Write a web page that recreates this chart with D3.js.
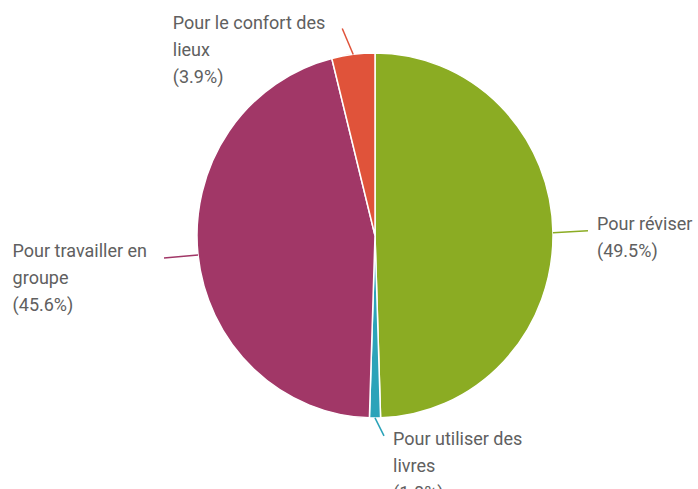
<!DOCTYPE html>
<html>
<head>
<meta charset="utf-8">
<script src="https://cdn.jsdelivr.net/npm/d3@7/dist/d3.min.js"></script>
<style>
  body { margin: 0; background: #fff; }
  svg { display: block; font-family: Roboto, "Liberation Sans", Arial, sans-serif; }
</style>
</head>
<body>
<svg id="chart" width="698" height="489"></svg>
<script>
const LABELS = [
  ["Pour réviser"],
  ["Pour utiliser des", "livres"],
  ["Pour travailler en", "groupe"],
  ["Pour le confort des", "lieux"],
];
const VALUES = [49.5, 1.0, 45.6, 3.9];
const COLORS = ["#8bac23", "#2ba3b9", "#a13767", "#e0533a"];

// leader line end (relative to arc point), text side and first-baseline shift
const LEADERS = [
  { dx: 35, dy: -2, side: "right", base: -1 },
  { dx: 9, dy: 18, side: "right", base: 9 },
  { dx: -34, dy: 3, side: "left", base: -1 },
  { dx: -11, dy: -26, side: "left", base: 1 },
];

const CX = 375, CY = 235.5, R = 178, SQUASH = 1.025;
const LINE_H = 27;

const svg = d3.select("#chart");
const slices = d3.pie().sort(null).value((d) => d)(VALUES);
const arc = d3.arc().innerRadius(0).outerRadius(R);

svg
  .append("g")
  .attr("transform", `translate(${CX},${CY}) scale(1,${SQUASH})`)
  .selectAll("path")
  .data(slices)
  .join("path")
  .attr("d", arc)
  .attr("fill", (d, i) => COLORS[i])
  .attr("stroke", "#fff")
  .attr("stroke-width", 1.5)
  .attr("vector-effect", "non-scaling-stroke");

const edge = (d) => {
  const a = (d.startAngle + d.endAngle) / 2;
  return [CX + R * Math.sin(a), CY - R * SQUASH * Math.cos(a)];
};

const labels = svg.append("g");
slices.forEach((d, i) => {
  const [x0, y0] = edge(d);
  const lay = LEADERS[i];
  const x1 = x0 + lay.dx, y1 = y0 + lay.dy;
  labels
    .append("line")
    .attr("x1", x0)
    .attr("y1", y0)
    .attr("x2", x1)
    .attr("y2", y1)
    .attr("stroke", COLORS[i])
    .attr("stroke-width", 1.5);

  const lines = LABELS[i].concat([`(${d3.format(".1f")(VALUES[i])}%)`]);
  const text = labels
    .append("text")
    .attr("fill", "#606060")
    .style("font-size", "18px");
  text
    .selectAll("tspan")
    .data(lines)
    .join("tspan")
    .attr("x", 0)
    .attr("dy", (l, j) => (j === 0 ? 0 : LINE_H))
    .text((l) => l);
  const w = text.node().getBBox().width;
  const tx = lay.side === "right" ? x1 + 9 : x1 - 17 - w;
  text.attr("transform", `translate(${tx},${y1 + lay.base})`);
});
</script>
</body>
</html>
